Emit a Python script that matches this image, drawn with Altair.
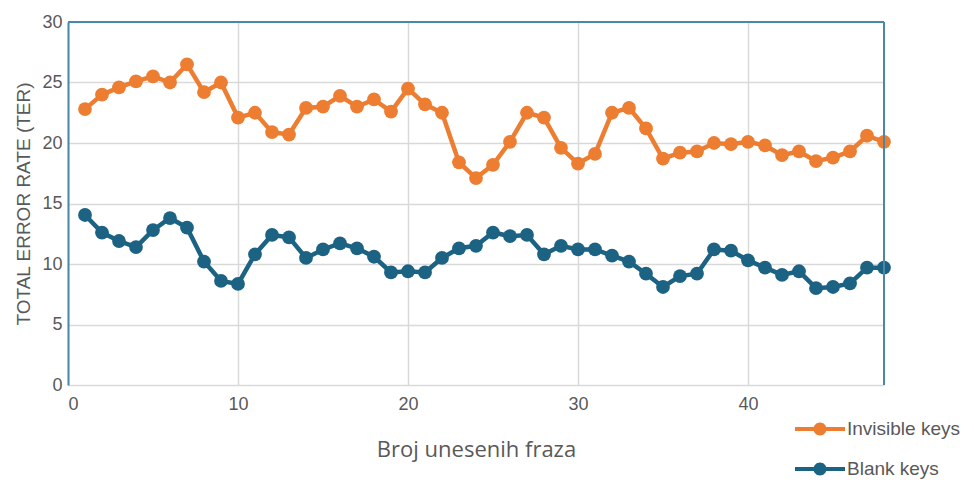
import altair as alt
import pandas as pd

x_vals = list(range(1, 49))
invisible = [22.8, 24.0, 24.6, 25.1, 25.5, 25.0, 26.5, 24.2, 25.0, 22.1,
             22.5, 20.9, 20.7, 22.9, 23.0, 23.9, 23.0, 23.6, 22.6, 24.5,
             23.2, 22.5, 18.4, 17.1, 18.2, 20.1, 22.5, 22.1, 19.6, 18.3,
             19.1, 22.5, 22.9, 21.2, 18.7, 19.2, 19.3, 20.0, 19.9, 20.1,
             19.8, 19.0, 19.3, 18.5, 18.8, 19.3, 20.6, 20.1]
blank = [14.05, 12.6, 11.9, 11.4, 12.8, 13.8, 13.0, 10.2, 8.6, 8.35,
         10.8, 12.4, 12.2, 10.5, 11.2, 11.7, 11.3, 10.6, 9.3, 9.4,
         9.3, 10.5, 11.3, 11.5, 12.6, 12.3, 12.4, 10.8, 11.5, 11.2,
         11.2, 10.7, 10.2, 9.2, 8.1, 9.0, 9.2, 11.2, 11.1, 10.3,
         9.7, 9.1, 9.4, 8.0, 8.1, 8.4, 9.7, 9.7]
series_names = ["Invisible keys", "Blank keys"]
series_colors = ["#ED7D31", "#1B6283"]

df = pd.concat([
    pd.DataFrame({"x": x_vals, "y": invisible, "s": series_names[0]}),
    pd.DataFrame({"x": x_vals, "y": blank, "s": series_names[1]}),
])

FONT = "Liberation Sans"
TFONT = "Open Sans"
GRAY = "#595959"
BORDER = "#4A88A8"

x_enc = alt.X("x:Q", scale=alt.Scale(domain=[0, 48], nice=False),
              axis=alt.Axis(values=[0, 10, 20, 30, 40], title="Broj unesenih fraza",
                            domain=False, ticks=False, labelPadding=10,
                            titlePadding=26, grid=True, titleFont=TFONT, titleFontSize=22))
y_enc = alt.Y("y:Q", scale=alt.Scale(domain=[0, 30], nice=False),
              axis=alt.Axis(values=[0, 5, 10, 15, 20, 25, 30], title="TOTAL ERROR RATE (TER)",
                            domain=True, domainColor=BORDER, domainWidth=2,
                            ticks=False, labelPadding=6, titlePadding=8, grid=True,
                            titleFont=FONT, titleFontSize=19))
color_scale = alt.Scale(domain=series_names, range=series_colors)

legend_path = ("M-1,-0.08L1,-0.08L1,0.08L-1,0.08Z "
               "M0.26,0A0.26,0.26 0 1,1 -0.26,0A0.26,0.26 0 1,1 0.26,0Z")
legend = alt.Legend(title=None, orient="none", legendX=727, legendY=382,
                    symbolType=legend_path, symbolSize=2500,
                    symbolStrokeWidth=0, symbolOpacity=1,
                    labelFont=FONT, labelFontSize=19, labelColor=GRAY,
                    labelOffset=2, rowPadding=5, padding=0)
color_enc = alt.Color("s:N", scale=color_scale, sort=series_names, legend=legend)

base = alt.Chart(df)

lines = base.mark_line(strokeWidth=4.5).encode(
    x=x_enc, y=y_enc, color=color_enc, detail="s:N",
)

points = base.mark_point(filled=True, size=190, opacity=1).encode(
    x="x:Q", y="y:Q", color=color_enc,
)

top_rule = alt.Chart(pd.DataFrame({"v": [30]})).mark_rule(color=BORDER, strokeWidth=2).encode(
    y="v:Q")
right_rule = alt.Chart(pd.DataFrame({"v": [48]})).mark_rule(color=BORDER, strokeWidth=2).encode(
    x="v:Q")

chart = alt.layer(lines, points, top_rule, right_rule).properties(
    width=816, height=363,
    autosize=alt.AutoSizeParams(type="none"),
    padding={"left": 60, "top": 14, "right": 80, "bottom": 97},
).configure_view(stroke=None).configure_axis(
    labelFont=FONT, labelFontSize=18, labelColor=GRAY,
    titleColor=GRAY, titleFontWeight="normal",
    gridColor="#D9D9D9", gridWidth=1.5,
)

chart.save("out.html", embed_options={"renderer": "svg", "actions": False})
